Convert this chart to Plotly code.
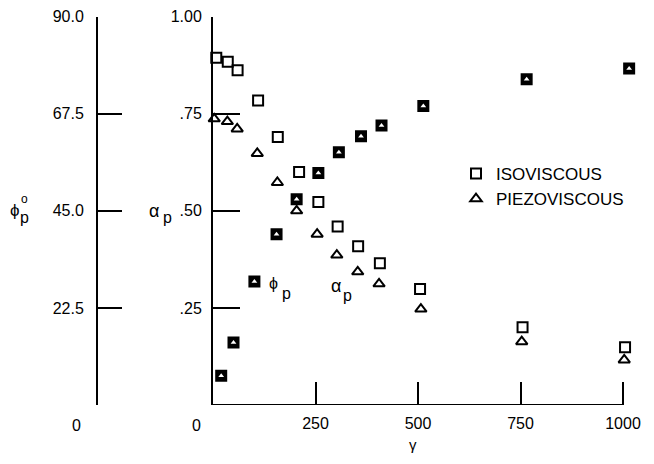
import plotly.graph_objects as go

# ---- data ----
gamma_iso = [8, 36, 60, 110, 158, 210, 257, 304, 354, 407, 505, 755, 1005]
alpha_iso = [0.894, 0.884, 0.862, 0.784, 0.690, 0.600, 0.523, 0.460, 0.409, 0.365, 0.299, 0.200, 0.149]

gamma_piezo = [3, 35, 59, 108, 157, 204, 254, 302, 353, 405, 507, 753, 1003]
alpha_piezo = [0.737, 0.730, 0.711, 0.648, 0.573, 0.500, 0.440, 0.386, 0.343, 0.312, 0.247, 0.163, 0.116]

gamma_phi = [20, 50, 101, 155, 204, 257, 307, 361, 411, 513, 765, 1015]
phi_iso = [6.8, 14.5, 28.6, 39.6, 47.7, 53.8, 58.6, 62.3, 64.8, 69.3, 75.5, 78.0]
phi_piezo = [6.8, 14.5, 28.6, 39.6, 47.7, 53.8, 58.6, 62.3, 64.8, 69.3, 75.5, 78.0]

x_tickvals = [250, 500, 750, 1000]
x_ticktext = ["250", "500", "750", "1000"]
alpha_tickvals = [0.25, 0.50, 0.75, 1.00]
alpha_ticktext = [".25", ".50", ".75", "1.00"]
phi_tickvals = [0, 22.5, 45, 67.5, 90]
phi_ticktext = ["", "22.5", "45.0", "67.5", "90.0"]

W, H = 654, 464
FONT = "Liberation Sans, Arial, sans-serif"
X_MAX = 1025          # a little room so the right-most markers are drawn
PX_PER_UNIT = 0.41    # horizontal scale of the reference


def px(x):
    return x / W


def py(y):
    return 1 - y / H


fig = go.Figure()

mk = dict(color="black", size=10, line=dict(color="black", width=2))

fig.add_trace(go.Scatter(x=gamma_iso, y=alpha_iso, mode="markers", name="ISOVISCOUS",
                         marker=dict(symbol="square-open", **mk), cliponaxis=False,
                         legendgroup="a"))
fig.add_trace(go.Scatter(x=gamma_piezo, y=alpha_piezo, mode="markers", name="PIEZOVISCOUS",
                         marker=dict(symbol="triangle-up-open", **mk), cliponaxis=False,
                         legendgroup="b"))
fig.add_trace(go.Scatter(x=gamma_phi, y=phi_iso, mode="markers", yaxis="y2", showlegend=False,
                         marker=dict(symbol="square", color="black", size=10,
                                     line=dict(color="black", width=2)), cliponaxis=False))
fig.add_trace(go.Scatter(x=gamma_phi, y=phi_piezo, mode="markers", yaxis="y2", showlegend=False,
                         marker=dict(symbol="triangle-up", color="white", size=5,
                                     line=dict(color="white", width=0)), cliponaxis=False))

axis_common = dict(linecolor="black", linewidth=2, ticks="inside",
                   tickcolor="black", tickwidth=2, showgrid=False, zeroline=False,
                   tickfont=dict(family=FONT, size=16, color="black"), automargin=False)

x_right = 213 + X_MAX * PX_PER_UNIT

fig.update_layout(
    width=W, height=H,
    margin=dict(l=0, r=0, t=0, b=0),
    paper_bgcolor="white", plot_bgcolor="white",
    font=dict(family=FONT, size=16, color="black"),
    xaxis=dict(domain=[px(213), px(x_right)], range=[0, X_MAX], tickvals=x_tickvals,
               ticktext=x_ticktext, ticklen=23, anchor="y", ticklabelstandoff=7,
               showline=False, **axis_common),
    yaxis=dict(domain=[py(405), py(16.7)], range=[0, 1], tickvals=alpha_tickvals,
               ticktext=alpha_ticktext, ticklen=27, anchor="x", ticklabelstandoff=6,
               showline=True, **axis_common),
    yaxis2=dict(domain=[py(405), py(16.7)], range=[0, 90], tickvals=phi_tickvals,
                ticktext=phi_ticktext, ticklen=24, overlaying="y", anchor="free",
                position=px(97), side="left", ticklabelstandoff=9, showline=True,
                **axis_common),
    legend=dict(x=px(456), y=py(156), xanchor="left", yanchor="top",
                font=dict(family=FONT, size=17, color="black"),
                bgcolor="rgba(0,0,0,0)", tracegroupgap=0),
    showlegend=True,
)

# x-axis base line, from 0 to 1000 only
fig.add_shape(type="line", xref="x", yref="y", x0=0, x1=1000, y0=0, y1=0,
              line=dict(color="black", width=2))

ann = [
    dict(x=px(196), y=py(425), text="0", size=16),
    dict(x=px(76), y=py(425), text="0", size=16),
    dict(x=px(413), y=py(444), text="γ", size=15),
    dict(x=px(154), y=py(211), text="α", size=18),
    dict(x=px(167), y=py(217), text="p", size=16),
    dict(x=px(15), y=py(210), text="ϕ", size=17),
    dict(x=px(24), y=py(199), text="o", size=12),
    dict(x=px(24), y=py(217), text="p", size=16),
    dict(x=px(273), y=py(283), text="ϕ", size=16),
    dict(x=px(286), y=py(293), text="p", size=16),
    dict(x=px(336), y=py(286), text="α", size=18),
    dict(x=px(347), y=py(295), text="p", size=16),
]
for a in ann:
    fig.add_annotation(x=a["x"], y=a["y"], xref="paper", yref="paper", text=a["text"],
                       showarrow=False, xanchor="center", yanchor="middle",
                       font=dict(family=FONT, size=a["size"], color="black"))

fig.write_html("out.html", config={"displayModeBar": False},
               post_script="document.body.style.margin='0';")
